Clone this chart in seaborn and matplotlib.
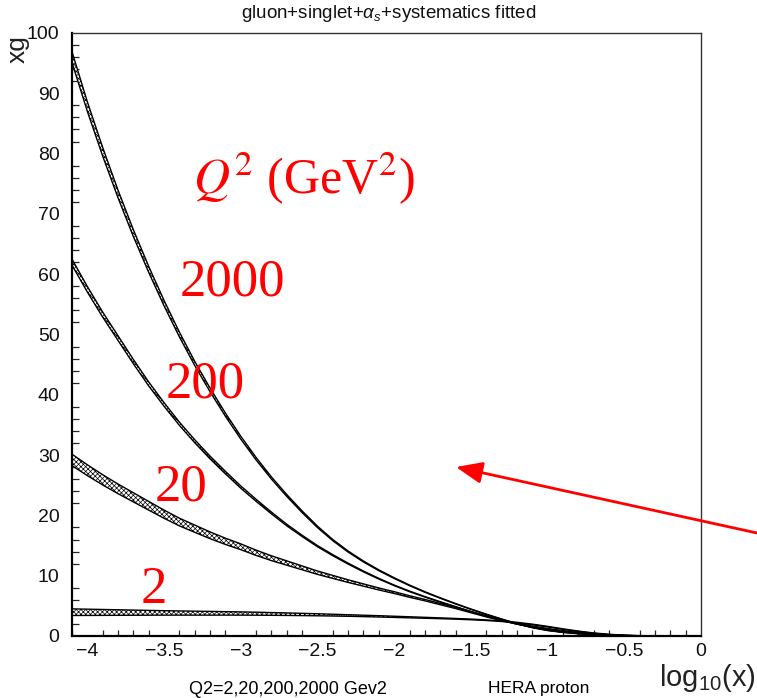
import numpy as np
import pandas as pd
import matplotlib
matplotlib.use("Agg")
import matplotlib.pyplot as plt
import seaborn as sns

# ---------------- data ----------------
log_x = [-4.1, -4.0, -3.9, -3.8, -3.7, -3.6, -3.5, -3.4, -3.3, -3.2, -3.1,
         -3.0, -2.9, -2.8, -2.7, -2.6, -2.5, -2.4, -2.3, -2.2, -2.1,
         -2.0, -1.9, -1.8, -1.7, -1.6, -1.5, -1.4, -1.3, -1.2, -1.1,
         -1.0, -0.9, -0.8, -0.7, -0.6, -0.5, -0.4, -0.3, -0.2, -0.1, 0.0]

xg_q2_2000 = [96.0, 87.8, 80.3, 73.3, 66.8, 60.8, 55.2, 50.0, 45.2, 40.8, 36.7,
              32.9, 29.4, 26.2, 23.3, 20.6, 18.1, 15.9, 14.0, 12.35, 10.9,
              9.6, 8.4, 7.3, 6.3, 5.35, 4.45, 3.6, 2.8, 2.05, 1.4,
              0.92, 0.6, 0.38, 0.22, 0.12, 0.05, 0.02, 0.0, 0.0, 0.0, 0.0]
err_q2_2000 = [0.9, 0.8, 0.72, 0.64, 0.57, 0.5, 0.45, 0.4, 0.35, 0.31, 0.27,
               0.24, 0.21, 0.18, 0.16, 0.14, 0.12, 0.1, 0.09, 0.08, 0.07,
               0.06, 0.05, 0.05, 0.04, 0.04, 0.03, 0.03, 0.03, 0.02, 0.02,
               0.02, 0.01, 0.01, 0.01, 0.01, 0.0, 0.0, 0.0, 0.0, 0.0, 0.0]

xg_q2_200 = [62.0, 57.5, 53.3, 49.4, 45.5, 41.8, 38.4, 35.2, 32.3, 29.6, 27.1,
             24.7, 22.5, 20.4, 18.4, 16.6, 14.9, 13.4, 12.0, 10.7, 9.5,
             8.4, 7.4, 6.5, 5.65, 4.85, 4.05, 3.3, 2.6, 1.98, 1.45,
             1.0, 0.68, 0.44, 0.26, 0.14, 0.06, 0.02, 0.0, 0.0, 0.0, 0.0]
err_q2_200 = [0.5, 0.46, 0.42, 0.39, 0.36, 0.33, 0.3, 0.27, 0.25, 0.23, 0.21,
              0.19, 0.17, 0.15, 0.13, 0.11, 0.1, 0.09, 0.08, 0.07, 0.06,
              0.05, 0.05, 0.04, 0.04, 0.03, 0.03, 0.03, 0.02, 0.02, 0.02,
              0.02, 0.01, 0.01, 0.01, 0.01, 0.0, 0.0, 0.0, 0.0, 0.0, 0.0]

xg_q2_20 = [29.2, 27.5, 25.9, 24.4, 23.0, 21.6, 20.2, 18.9, 17.8, 16.7, 15.7,
            14.8, 13.8, 12.9, 12.1, 11.3, 10.5, 9.8, 9.1, 8.45, 7.8,
            7.2, 6.55, 5.95, 5.3, 4.65, 3.95, 3.25, 2.6, 2.05, 1.6,
            1.2, 0.85, 0.56, 0.34, 0.19, 0.09, 0.03, 0.01, 0.0, 0.0, 0.0]
err_q2_20 = [0.95, 0.9, 0.85, 0.8, 0.76, 0.72, 0.68, 0.64, 0.6, 0.56, 0.52,
             0.48, 0.44, 0.4, 0.36, 0.32, 0.28, 0.25, 0.22, 0.19, 0.17,
             0.15, 0.13, 0.12, 0.11, 0.1, 0.09, 0.08, 0.07, 0.06, 0.05,
             0.05, 0.04, 0.03, 0.03, 0.02, 0.01, 0.01, 0.0, 0.0, 0.0, 0.0]

xg_q2_2 = [3.95, 3.93, 3.91, 3.89, 3.87, 3.85, 3.83, 3.81, 3.79, 3.77, 3.75,
           3.73, 3.70, 3.66, 3.62, 3.57, 3.52, 3.46, 3.40, 3.33, 3.26,
           3.18, 3.10, 3.02, 2.94, 2.85, 2.75, 2.62, 2.45, 2.22, 1.92,
           1.55, 1.15, 0.78, 0.48, 0.26, 0.12, 0.05, 0.02, 0.0, 0.0, 0.0]
err_q2_2 = [0.55, 0.52, 0.49, 0.46, 0.43, 0.4, 0.37, 0.35, 0.33, 0.31, 0.29,
            0.27, 0.25, 0.23, 0.21, 0.19, 0.17, 0.15, 0.13, 0.12, 0.11,
            0.1, 0.09, 0.08, 0.07, 0.06, 0.06, 0.05, 0.05, 0.05, 0.05,
            0.05, 0.04, 0.04, 0.03, 0.03, 0.02, 0.01, 0.01, 0.0, 0.0, 0.0]

q2_labels = ["2000", "200", "20", "2"]
x_ticks = [-4.0, -3.5, -3.0, -2.5, -2.0, -1.5, -1.0, -0.5, 0.0]
x_tick_labels = ["\u22124", "\u22123.5", "\u22123", "\u22122.5", "\u22122",
                 "\u22121.5", "\u22121", "\u22120.5", "0"]
y_ticks = [0, 10, 20, 30, 40, 50, 60, 70, 80, 90, 100]

# ---------------- style ----------------
sns.set_theme(style="white")
plt.rcParams["font.family"] = ["Liberation Sans", "DejaVu Sans"]
plt.rcParams["mathtext.fontset"] = "custom"
plt.rcParams["mathtext.rm"] = "Liberation Sans"
plt.rcParams["mathtext.it"] = "Liberation Sans:italic"
plt.rcParams["hatch.linewidth"] = 0.5
plt.rcParams["hatch.color"] = "black"

fig = plt.figure(figsize=(7.57, 6.98), dpi=100)
ax = fig.add_axes([72 / 757, 1 - 636 / 698, (701 - 72) / 757, (636 - 33) / 698])

curves = {
    "2000": (xg_q2_2000, err_q2_2000),
    "200": (xg_q2_200, err_q2_200),
    "20": (xg_q2_20, err_q2_20),
    "2": (xg_q2_2, err_q2_2),
}

rows = []
for name, (vals, errs) in curves.items():
    v = np.array(vals)
    e = np.array(errs)
    lo = np.clip(v - e, 0, None)
    hi = v + e
    ax.fill_between(log_x, lo, hi, facecolor="white", edgecolor="black",
                    hatch="xxxxxxx", linewidth=0, zorder=2)
    for xx, l, h in zip(log_x, lo, hi):
        rows.append({"log_x": xx, "xg": l, "curve": name, "edge": "lo"})
        rows.append({"log_x": xx, "xg": h, "curve": name, "edge": "hi"})
df = pd.DataFrame(rows)

sns.lineplot(data=df, x="log_x", y="xg", hue="curve", style="edge",
             estimator=None, dashes=False,
             palette={k: "black" for k in q2_labels}, linewidth=1.0,
             legend=False, ax=ax, zorder=3)

ax.set_xlim(-4.1, 0)
ax.set_ylim(0, 100)
ax.set_xlabel("")
ax.set_ylabel("")

ax.set_xticks(x_ticks)
ax.set_xticklabels(x_tick_labels)
ax.set_xticks(np.arange(-4.1, 0.001, 0.1), minor=True)
ax.set_yticks(y_ticks)
ax.set_yticks(np.arange(0, 100.1, 2), minor=True)

ax.tick_params(axis="x", which="major", direction="in", length=7.5, width=1.0,
               labelsize=14, pad=5, colors="black")
ax.tick_params(axis="x", which="minor", direction="in", length=4, width=0.9,
               bottom=True)
ax.tick_params(axis="y", which="major", direction="in", length=8.5, width=1.0,
               labelsize=14, pad=9, colors="black")
ax.tick_params(axis="y", which="minor", direction="in", length=5, width=0.9,
               left=True)
ax.tick_params(top=False, right=False, which="both")
for lab in ax.get_xticklabels() + ax.get_yticklabels():
    lab.set_color("#111111")

for side in ["left", "bottom"]:
    ax.spines[side].set_linewidth(1.6)
    ax.spines[side].set_color("black")
for side in ["top", "right"]:
    ax.spines[side].set_linewidth(1.0)
    ax.spines[side].set_color("#333333")

# ---------------- texts ----------------
fig.text(389 / 757, 1 - 14 / 698, r"gluon+singlet+$\alpha_s$+systematics fitted",
         ha="center", va="center", fontsize=13.5, color="#111111")
fig.text(18 / 757, 1 - 49 / 698, "xg", rotation=90, ha="center", va="center",
         fontsize=19, color="#222222")
fig.text(707 / 757, 1 - 686 / 698, r"$\mathregular{log_{10}(x)}$",
         ha="center", va="baseline", fontsize=21, color="#222222")
fig.text(288 / 757, 1 - 689 / 698, "Q2=2,20,200,2000 Gev2",
         ha="center", va="center", fontsize=13, color="black")
fig.text(539 / 757, 1 - 689 / 698, "HERA proton",
         ha="center", va="center", fontsize=12.5, color="black")

red = "#ff0000"
ax.text(-3.31, 73.3, r"$Q^2$ (GeV$^2$)", color=red, fontsize=36,
        family="Liberation Serif", math_fontfamily="stix",
        ha="left", va="baseline", zorder=5)
label_pos = {"2000": (-3.40, 56.4), "200": (-3.49, 39.5),
             "20": (-3.56, 22.4), "2": (-3.65, 5.5)}
for name in q2_labels:
    lx, ly = label_pos[name]
    ax.text(lx, ly, name, color=red, fontsize=38, family="Liberation Serif",
            ha="left", va="baseline", zorder=5)

ax.annotate("", xy=(456, 698 - 467), xycoords="figure pixels",
            xytext=(757, 698 - 533), textcoords="figure pixels",
            arrowprops=dict(arrowstyle="-|>,head_length=0.8,head_width=0.33",
                            color=red, lw=2, mutation_scale=20,
                            shrinkA=0, shrinkB=0),
            annotation_clip=False, zorder=6)

fig.savefig("out.png", dpi=100)
